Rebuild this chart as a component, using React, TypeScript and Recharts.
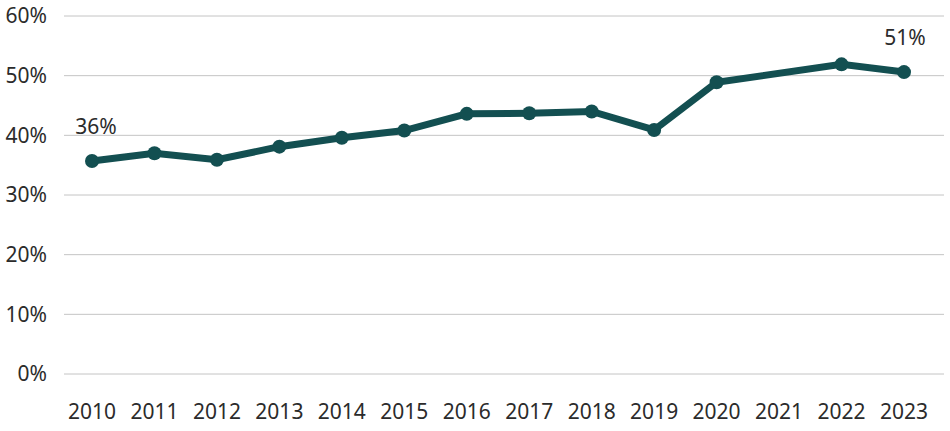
import { LineChart, Line, XAxis, YAxis, CartesianGrid, LabelList } from "recharts";

const YEARS = [
  "2010", "2011", "2012", "2013", "2014", "2015", "2016",
  "2017", "2018", "2019", "2020", "2021", "2022", "2023",
];

// share in %, 2021 has no reading
const SHARE: (number | null)[] = [
  35.7, 37.0, 35.9, 38.1, 39.6, 40.8, 43.6,
  43.7, 44.0, 40.9, 48.9, null, 51.9, 50.6,
];

const Y_TICKS = [0, 10, 20, 30, 40, 50, 60];

const COLORS = {
  line: "#134f51",
  grid: "#c4c4c4",
  text: "#2b2b2b",
};

const FONT = "'Noto Sans', 'Open Sans', sans-serif";

const data = YEARS.map((year, i) => ({ year, share: SHARE[i] }));

const lastIndex = SHARE.length - 1;

function EndLabel(props: any) {
  const { x, y, value, index } = props;
  if (value == null) return null;
  if (index !== 0 && index !== lastIndex) return null;
  return (
    <text
      x={x + (index === 0 ? 4 : 1)}
      y={y - 27}
      textAnchor="middle"
      fill={COLORS.text}
      fontSize={21}
      fontFamily={FONT}
    >
      {Math.round(value)}%
    </text>
  );
}

export default function App() {
  return (
    <div style={{ position: "absolute", left: 0, top: 0, background: "#fff" }}>
      <LineChart
        width={950}
        height={431}
        data={data}
        margin={{ top: 16, right: 6, left: 0, bottom: 7 }}
      >
        <CartesianGrid vertical={false} stroke={COLORS.grid} strokeWidth={1} />
        <XAxis
          dataKey="year"
          axisLine={false}
          tickLine={false}
          tickSize={0}
          tickMargin={30}
          height={50}
          interval={0}
          padding={{ left: 28, right: 40 }}
          tick={{ fill: COLORS.text, fontSize: 21, fontFamily: FONT }}
        />
        <YAxis
          domain={[0, 60]}
          ticks={Y_TICKS}
          width={64}
          axisLine={false}
          tickLine={false}
          tickSize={0}
          tickMargin={17}
          tickFormatter={(v) => `${v}%`}
          tick={{ fill: COLORS.text, fontSize: 21, fontFamily: FONT }}
        />
        <Line
          type="linear"
          dataKey="share"
          stroke={COLORS.line}
          strokeWidth={7}
          connectNulls
          dot={{ r: 7, fill: COLORS.line, stroke: COLORS.line, strokeWidth: 0 }}
          activeDot={false}
          isAnimationActive={false}
        >
          <LabelList dataKey="share" content={EndLabel} />
        </Line>
      </LineChart>
    </div>
  );
}
